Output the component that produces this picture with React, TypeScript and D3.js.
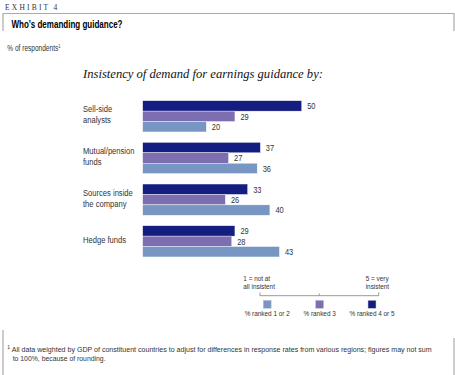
import React from "react";
import * as d3 from "d3";

const categories = [["Sell-side", "analysts"], ["Mutual/pension", "funds"], ["Sources inside", "the company"], ["Hedge funds"]];
const seriesNames = ["% ranked 4 or 5", "% ranked 3", "% ranked 1 or 2"];
const ranked45 = [50, 37, 33, 29];
const ranked3 = [29, 27, 26, 28];
const ranked12 = [20, 36, 40, 43];
const colors = ["#141d80", "#7c6eb0", "#7896c4"];

const W = 455, H = 375;
const SANS = "'Liberation Sans', Arial, sans-serif";

function NT({ x, y, fs, anchor, sx = 0.8, tl, children }: { x: number; y: number; fs: number; anchor?: string; sx?: number; tl?: number; children: React.ReactNode }) {
  return (
    <text transform={`translate(${x},${y}) scale(${sx},1)`} fontFamily={SANS} fontSize={fs} fill="#333" textAnchor={anchor || "start"}
      textLength={tl ? tl / sx : undefined} lengthAdjust={tl ? "spacingAndGlyphs" : undefined}>
      {children}
    </text>
  );
}

export default function App() {
  const series = [ranked45, ranked3, ranked12];
  const x = d3.scaleLinear().domain([0, 50]).range([142.7, 301.7]);
  const y = d3.scaleBand<number>().domain(d3.range(categories.length)).range([100.7, 256.95]).paddingInner(0.25).paddingOuter(0);
  const yi = d3.scaleBand<number>().domain(d3.range(3)).range([0, y.bandwidth()]);
  const legendOrder = [2, 1, 0];
  const legendX = [267.2, 319.6, 372];
  const scaleTicks = [260, 319.3, 378.7];
  return (
    <svg width={W} height={H} style={{ position: "absolute", left: 0, top: 0, background: "#fff" }}>
      {/* frame */}
      <g stroke="#aaaaaa" strokeWidth={1.2} fill="none">
        <path d="M3,31 V13.5 H454 V31" />
        <path d="M3,330 V375" />
        <path d="M454,338 V375" />
      </g>
      <text x={5} y={10} fontFamily="'Liberation Serif', serif" fontSize={7.5} letterSpacing={2.2} fill="#333">EXHIBIT<tspan dx={3}>4</tspan></text>
      <text x={11.5} y={27.5} fontFamily={SANS} fontWeight="bold" fontSize={10} fill="#000" textLength={111} lengthAdjust="spacingAndGlyphs">Who’s demanding guidance?</text>
      <NT x={7.3} y={50.5} fs={8.2}>% of respondents<tspan fontSize={5} dy={-3}>1</tspan></NT>
      <text x={83} y={78.3} fontFamily="'Liberation Serif', serif" fontStyle="italic" fontSize={12.6} fill="#111">Insistency of demand for earnings guidance by:</text>

      {categories.map((lines, i) => {
        const c = (y(i) as number) + y.bandwidth() / 2;
        const base = lines.length === 1 ? c + 1.5 : c - 4;
        return (
          <g key={i}>
            {lines.map((l, k) => (
              <NT key={k} x={83} y={base + k * 11} fs={9.5}>{l}</NT>
            ))}
            {series.map((s, j) => {
              const by = (y(i) as number) + (yi(j) as number);
              return (
                <g key={j}>
                  <rect x={x(0)} y={by} width={x(s[i]) - x(0)} height={yi.bandwidth()} fill={colors[j]} stroke="#fff" strokeWidth={0.4} />
                  <NT x={x(s[i]) + 5.5} y={by + yi.bandwidth() / 2 + 3.4} fs={9.3}>{s[i]}</NT>
                </g>
              );
            })}
          </g>
        );
      })}

      {/* legend scale */}
      <g stroke="#999" strokeWidth={1} fill="none">
        <line x1={scaleTicks[0]} x2={scaleTicks[2]} y1={295.7} y2={295.7} />
        <line x1={scaleTicks[0]} x2={scaleTicks[0]} y1={292.5} y2={296} />
        <line x1={scaleTicks[1]} x2={scaleTicks[1]} y1={293.5} y2={296} />
        <line x1={scaleTicks[2]} x2={scaleTicks[2]} y1={292.5} y2={296} />
      </g>
      <NT x={243.3} y={280.7} fs={8}>1 = not at</NT>
      <NT x={243.3} y={289.3} fs={8}>all insistent</NT>
      <NT x={365.7} y={280.7} fs={8}>5 = very</NT>
      <NT x={365.7} y={289.3} fs={8}>insistent</NT>
      {legendOrder.map((j, k) => (
        <g key={j}>
          <rect x={legendX[k] - 4} y={300.3} width={8} height={8} fill={colors[j]} stroke="#ccc" strokeWidth={0.5} />
          <NT x={legendX[k]} y={315.5} fs={8} anchor="middle">{seriesNames[j]}</NT>
        </g>
      ))}

      {/* footnote */}
      <NT x={7.3} y={349} fs={5.5} sx={0.9}>1</NT>
      <NT x={11.7} y={352.3} fs={7.8} sx={0.88} tl={420}>All data weighted by GDP of constituent countries to adjust for differences in response rates from various regions; figures may not sum</NT>
      <NT x={12.7} y={361} fs={7.8} sx={0.88}>to 100%, because of rounding.</NT>
    </svg>
  );
}
